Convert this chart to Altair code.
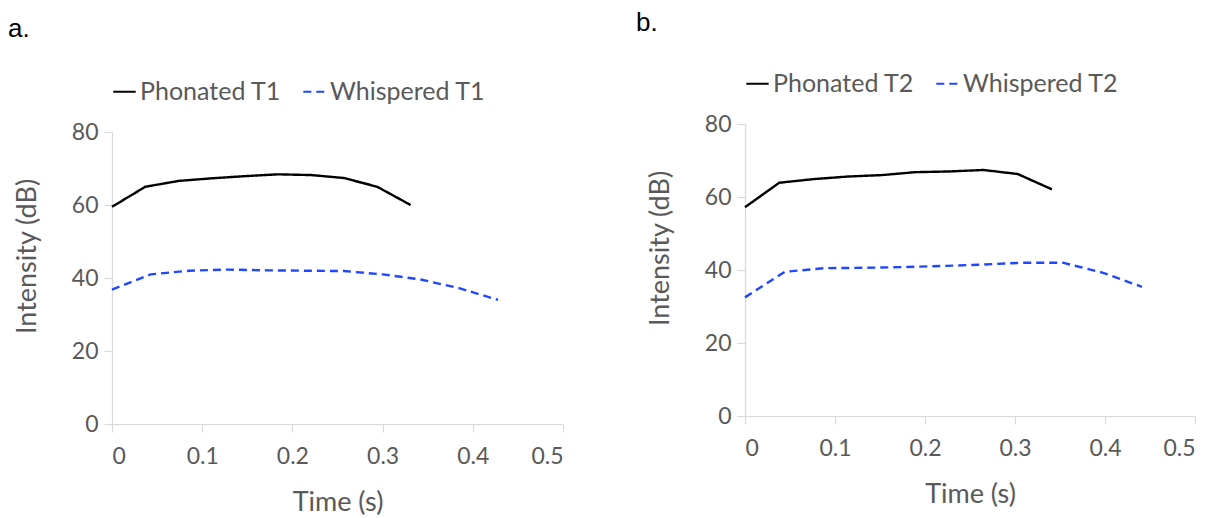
import altair as alt
import pandas as pd

# Panel a
t_a_ph = [0, 0.037, 0.074, 0.110, 0.147, 0.184, 0.221, 0.257, 0.294, 0.331]
v_a_ph = [59.5, 65.0, 66.6, 67.3, 67.9, 68.4, 68.2, 67.4, 65.0, 60.0]
t_a_wh = [0, 0.043, 0.086, 0.128, 0.171, 0.214, 0.257, 0.300, 0.342, 0.385, 0.428]
v_a_wh = [36.8, 41.0, 42.0, 42.3, 42.1, 42.0, 41.9, 41.0, 39.6, 37.2, 34.0]

# Panel b
t_b_ph = [0, 0.038, 0.076, 0.114, 0.152, 0.189, 0.227, 0.265, 0.303, 0.341]
v_b_ph = [57.2, 63.9, 64.9, 65.6, 66.0, 66.8, 67.0, 67.4, 66.3, 62.1]
t_b_wh = [0, 0.044, 0.088, 0.132, 0.176, 0.220, 0.265, 0.309, 0.353, 0.397, 0.441]
v_b_wh = [32.5, 39.5, 40.5, 40.6, 40.8, 41.1, 41.5, 42.0, 42.0, 39.3, 35.4]

series_a = ["Phonated T1", "Whispered T1"]
series_b = ["Phonated T2", "Whispered T2"]
x_ticks = [0, 0.1, 0.2, 0.3, 0.4, 0.5]
y_ticks = [0, 20, 40, 60, 80]

BLACK = "#000000"
BLUE = "#1f47ff"
GRAY_TXT = "#595959"
GRAY_LINE = "#d9d9d9"
FONT = "Lato"


def frame(ts, vs, name):
    return pd.DataFrame({"t": ts, "v": vs, "s": [name] * len(ts)})


def panel(df, names, title, w):
    x = alt.X("t:Q", title="Time (s)",
              scale=alt.Scale(domain=[0, 0.5], nice=False, zero=False),
              axis=alt.Axis(values=x_ticks, format="~g", grid=False,
                            domainColor=GRAY_LINE, tickColor=GRAY_LINE,
                            tickSize=8, labelPadding=13, titlePadding=21,
                            labelColor=GRAY_TXT, titleColor=GRAY_TXT,
                            labelFont=FONT, titleFont=FONT,
                            labelFontSize=23, titleFontSize=27,
                            titleFontWeight="normal", domainWidth=1.2,
                            tickWidth=1.2))
    y = alt.Y("v:Q", title="Intensity (dB)",
              scale=alt.Scale(domain=[0, 80], nice=False),
              axis=alt.Axis(values=y_ticks, grid=False,
                            domainColor=GRAY_LINE, tickColor=GRAY_LINE,
                            tickSize=8, labelPadding=6,
                            titleX=-71, titleY=124, titleAngle=270,
                            titleBaseline="bottom", titleAlign="center",
                            labelColor=GRAY_TXT, titleColor=GRAY_TXT,
                            labelFont=FONT, titleFont=FONT,
                            labelFontSize=23, titleFontSize=27,
                            titleFontWeight="normal", domainWidth=1.2,
                            tickWidth=1.2))
    color = alt.Color("s:N", scale=alt.Scale(domain=names, range=[BLACK, BLUE]),
                      legend=alt.Legend(title=None, orient="top", direction="horizontal",
                                        symbolType="stroke", symbolSize=500,
                                        symbolStrokeWidth=2, labelFont=FONT,
                                        labelFontSize=25, labelColor=GRAY_TXT,
                                        labelOffset=3, columnPadding=17,
                                        offset=27, padding=0))
    dash = alt.StrokeDash("s:N", scale=alt.Scale(domain=names, range=[[1, 0], [8, 5]]),
                          legend=None)
    return alt.Chart(df).mark_line(strokeWidth=2.4).encode(
        x=x, y=y, color=color, strokeDash=dash, order="t:Q"
    ).properties(width=w, height=292, title=title)


df_a = pd.concat([frame(t_a_ph, v_a_ph, series_a[0]), frame(t_a_wh, v_a_wh, series_a[1])])
df_b = pd.concat([frame(t_b_ph, v_b_ph, series_b[0]), frame(t_b_wh, v_b_wh, series_b[1])])

title_a = alt.TitleParams("a.", anchor="start", frame="group", dx=-104,
                          font="Liberation Sans", fontSize=26, fontWeight="normal",
                          color="black", offset=37)
title_b = alt.TitleParams("b.", anchor="start", frame="group", dx=-109,
                          font="Liberation Sans", fontSize=26, fontWeight="normal",
                          color="black", offset=35)

pa = panel(df_a, series_a, title_a, 451)
pb = panel(df_b, series_b, title_b, 450)


def spacer():
    return alt.Chart(pd.DataFrame({"d": [0]})).mark_point(size=0, opacity=0).encode(
        x=alt.X("d:Q", axis=None), y=alt.Y("d:Q", axis=None)
    ).properties(width=1, height=1)


left = alt.vconcat(spacer(), pa, spacing=7).resolve_scale(
    color="independent", strokeDash="independent")
right = alt.vconcat(spacer(), pb, spacing=1).resolve_scale(
    color="independent", strokeDash="independent")

chart = alt.hconcat(left, right, spacing=72).configure_view(stroke=None).properties(
    padding={"left": 0, "top": 0, "right": 0, "bottom": 0}
).resolve_scale(color="independent", strokeDash="independent")

chart.save("out.html", embed_options={"renderer": "svg", "actions": False})
